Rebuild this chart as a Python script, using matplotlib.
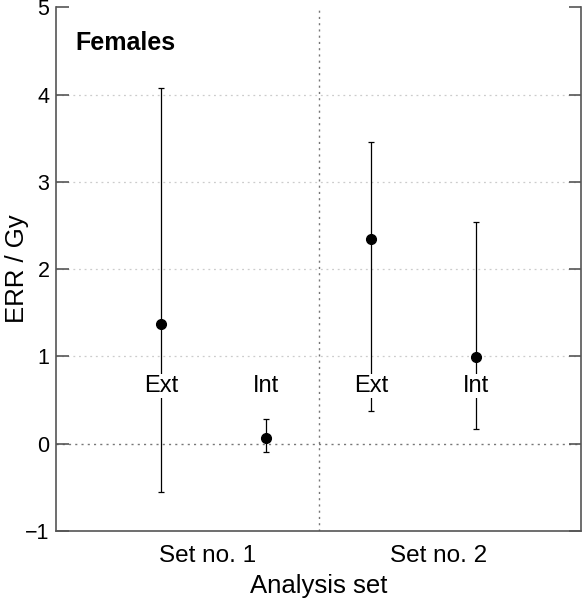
import matplotlib.pyplot as plt

plt.rcParams['font.family'] = ['Liberation Sans', 'DejaVu Sans']

# estimates
positions = [1, 2, 3, 4]
labels = ['Ext', 'Int', 'Ext', 'Int']
err = [1.37, 0.06, 2.34, 0.99]
lower = [-0.55, -0.09, 0.38, 0.17]
upper = [4.07, 0.28, 3.46, 2.54]
set_names = ['Set no. 1', 'Set no. 2']
set_pos = [1.44, 3.64]
label_y = 0.66

fig = plt.figure(figsize=(5.82, 6.0), dpi=100, facecolor='white')
ax = fig.add_axes([0.097, 0.115, 0.901, 0.873])

spine_col = '#555555'
for y in [1, 2, 3, 4]:
    ax.axhline(y, color='#cccccc', linestyle=(0, (1.5, 3)), linewidth=0.9, zorder=0)
ax.axhline(0, color='#777777', linestyle=(0, (1.5, 3)), linewidth=1.0, zorder=0)
ax.axvline(2.5, color='#777777', linestyle=(0, (1.5, 3)), linewidth=1.0, zorder=0)

yerr = [[e - lo for e, lo in zip(err, lower)], [up - e for e, up in zip(err, upper)]]
ax.errorbar(positions, err, yerr=yerr, fmt='o', color='black', ms=7,
            elinewidth=0.9, capsize=2.3, capthick=0.9, zorder=2)

for x, lab in zip(positions, labels):
    ax.text(x, label_y, lab, ha='center', va='center', fontsize=17,
            bbox=dict(facecolor='white', edgecolor='none', pad=1.0), zorder=3)

ax.text(0.037, 0.955, 'Females', transform=ax.transAxes, fontsize=18,
        fontweight='bold', ha='left', va='top')

ax.set_xlim(0, 5)
ax.set_ylim(-1, 5)
ax.set_yticks(range(-1, 6))
ax.set_yticklabels(['\u22121', '0', '1', '2', '3', '4', '5'], fontsize=15.5)
ax.set_xticks(set_pos)
ax.set_xticklabels(set_names, fontsize=17.5)
ax.tick_params(axis='x', length=0, pad=10)
ax.tick_params(axis='y', direction='in', length=9, color=spine_col, width=1.2,
               right=True, pad=5)
ax.set_xlabel('Analysis set', fontsize=18.5, va='center')
ax.set_ylabel('ERR / Gy', fontsize=18.5, va='center')
ax.xaxis.set_label_coords(0.5, -0.105)
ax.yaxis.set_label_coords(-0.075, 0.5)

ax.spines['top'].set_visible(False)
for s in ['left', 'right', 'bottom']:
    ax.spines[s].set_color(spine_col)
    ax.spines[s].set_linewidth(1.2)

fig.savefig('out.png', dpi=100)
